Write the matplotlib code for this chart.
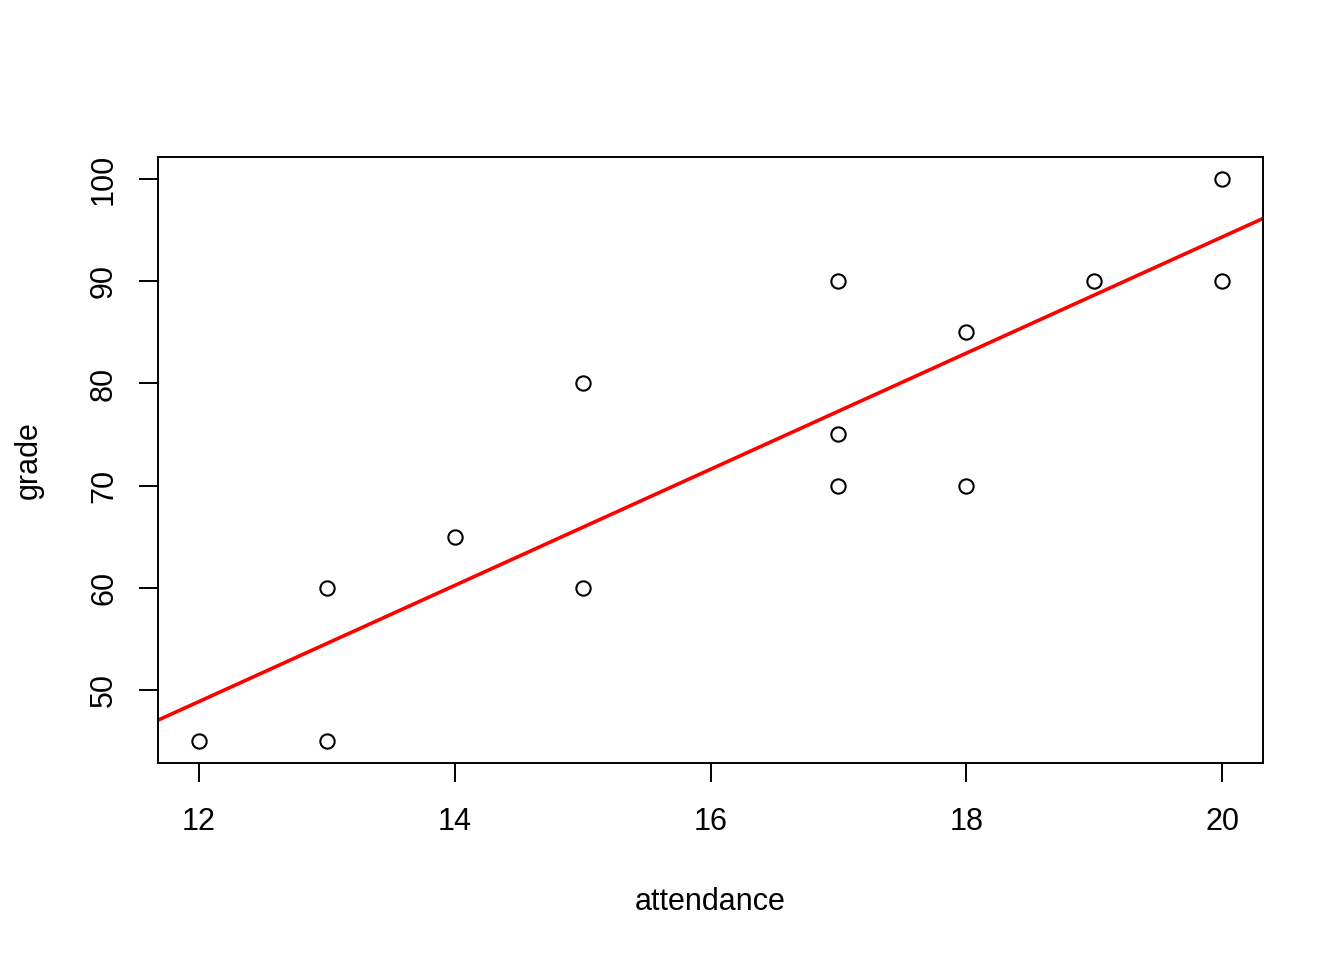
import numpy as np
import matplotlib
matplotlib.use("Agg")
import matplotlib.pyplot as plt

attendance = [12, 13, 13, 14, 15, 15, 17, 17, 17, 18, 18, 19, 20, 20]
grade = [45, 60, 45, 65, 80, 60, 90, 75, 70, 85, 70, 90, 100, 90]
xticks = [12, 14, 16, 18, 20]
yticks = [50, 60, 70, 80, 90, 100]

plt.rcParams['font.family'] = ['Liberation Sans', 'DejaVu Sans']
fig = plt.figure(figsize=(13.44, 9.6), dpi=100)
ax = fig.add_axes([158/1344, 1-763/960, (1263-158)/1344, (763-157)/960])

x = np.array(attendance, float)
y = np.array(grade, float)
ax.plot(x, y, 'o', mfc='none', mec='black', ms=10.3, mew=1.5, zorder=3)

xr = x.max() - x.min()
yr = y.max() - y.min()
ax.set_xlim(x.min() - 0.04*xr, x.max() + 0.04*xr)
ax.set_ylim(y.min() - 0.04*yr, y.max() + 0.04*yr)

b, a = np.polyfit(x, y, 1)
xl = np.array(ax.get_xlim())
ax.plot(xl, a + b*xl, color='red', lw=2.6, zorder=2, solid_capstyle='butt')

ax.set_xticks(xticks)
ax.set_yticks(yticks)
ax.tick_params(axis='both', direction='out', length=14, width=1.4, labelsize=22, color='black')
ax.tick_params(axis='x', pad=18)
ax.tick_params(axis='y', pad=14)
for lab in ax.get_yticklabels():
    lab.set_rotation(90)
    lab.set_va('center')
for s in ax.spines.values():
    s.set_linewidth(1.4)

ax.set_xlabel('attendance', fontsize=22, labelpad=36)
ax.set_ylabel('grade', fontsize=22, labelpad=33)

fig.savefig('out.png', dpi=100)
